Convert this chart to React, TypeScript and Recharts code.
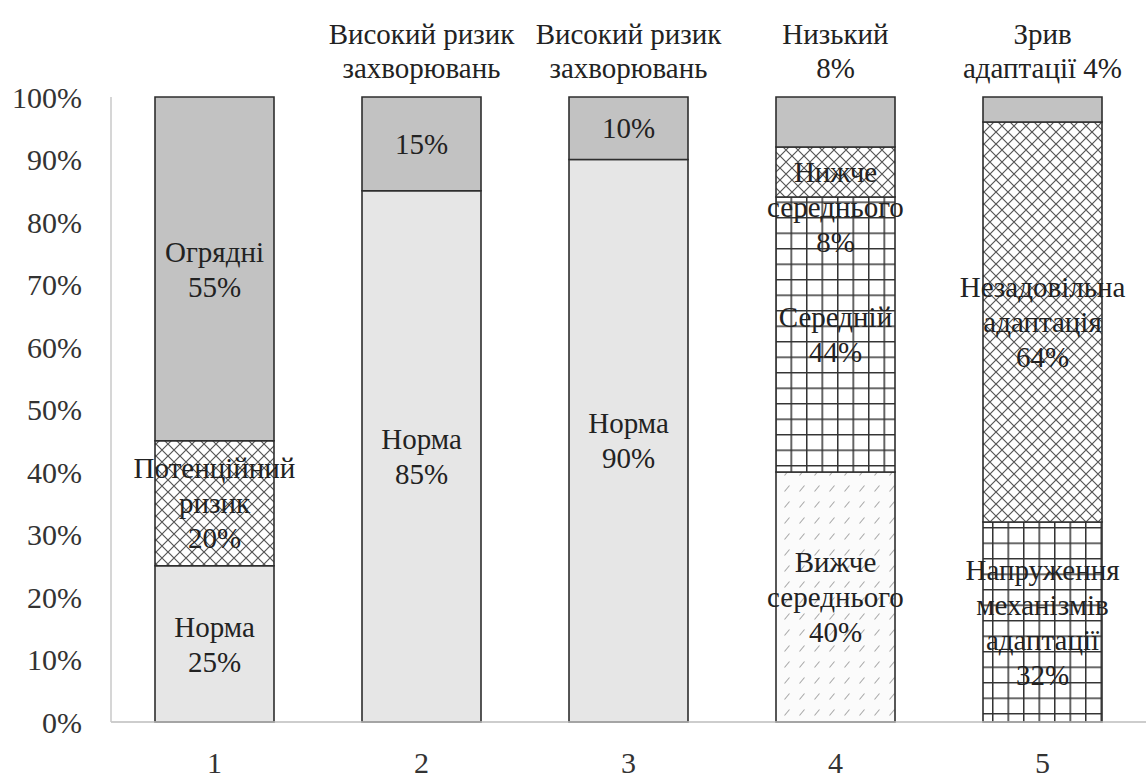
import React from 'react';
import { BarChart, Bar, XAxis, YAxis, LabelList } from 'recharts';

const categories = ['1', '2', '3', '4', '5'];
const lightValues = [25, 85, 90, 0, 0];
const dashedValues = [0, 0, 0, 40, 0];
const gridValues = [0, 0, 0, 44, 32];
const crossValues = [20, 0, 0, 8, 64];
const grayValues = [55, 15, 10, 8, 4];

const lightLabels = [['Норма', '25%'], ['Норма', '85%'], ['Норма', '90%'], [], []];
const dashedLabels = [[], [], [], ['Вижче', 'середнього', '40%'], []];
const gridLabels = [[], [], [], ['Середній', '44%'], ['Напруження', 'механізмів', 'адаптації', '32%']];
const crossLabels = [['Потенційний', 'ризик', '20%'], [], [], ['Нижче', 'середнього', '8%'], ['Незадовільна', 'адаптація', '64%']];
const grayLabels = [['Огрядні', '55%'], ['15%'], ['10%'], [], []];
const topLabels = [[], ['Високий ризик', 'захворювань'], ['Високий ризик', 'захворювань'], ['Низький', '8%'], ['Зрив', 'адаптації 4%']];

const yTicks = [0, 10, 20, 30, 40, 50, 60, 70, 80, 90, 100];

const data = categories.map((c, i) => ({
  name: c,
  light: lightValues[i],
  dashed: dashedValues[i],
  grid: gridValues[i],
  cross: crossValues[i],
  gray: grayValues[i],
}));

const FONT = 'Liberation Serif';
const FS = 29;
const LINE = 35;
const TEXT_COLOR = '#222';
const PLOT_LEFT = 111;
const CHART_W = 1146;
const BAND = (CHART_W - PLOT_LEFT) / categories.length;

const getBox = (props: any) => {
  const vb = props.viewBox && props.viewBox.width !== undefined ? props.viewBox : props;
  const x = Number(vb.x);
  const y = Number(vb.y);
  const width = Number(vb.width);
  const height = Number(vb.height);
  const index = Math.floor((x + width / 2 - PLOT_LEFT) / BAND);
  return { x, y, width, height, index };
};

const makeSegmentLabel = (labels: string[][]) => (props: any) => {
  const { x, y, width, height, index } = getBox(props);
  const lines = labels[index];
  if (!lines || lines.length === 0 || !height) return null;
  const cx = x + width / 2;
  const block = (lines.length - 1) * LINE;
  let firstCenter = y + height / 2 - block / 2;
  if (block + LINE > height) firstCenter = y + height / 2;
  return (
    <g>
      {lines.map((t, k) => (
        <text
          key={k}
          x={cx}
          y={firstCenter + k * LINE + FS * 0.35}
          textAnchor="middle"
          fontFamily={FONT}
          fontSize={FS}
          fill={TEXT_COLOR}
        >
          {t}
        </text>
      ))}
    </g>
  );
};

const topLabel = (props: any) => {
  const { x, y, width, index } = getBox(props);
  const lines = topLabels[index];
  if (!lines || lines.length === 0) return null;
  const cx = x + width / 2;
  const lastBase = y - 19;
  return (
    <g>
      {lines.map((t, k) => (
        <text
          key={k}
          x={cx}
          y={lastBase - (lines.length - 1 - k) * 34}
          textAnchor="middle"
          fontFamily={FONT}
          fontSize={FS}
          fill={TEXT_COLOR}
        >
          {t}
        </text>
      ))}
    </g>
  );
};

const STROKE = '#2e2e2e';

export default function App() {
  return (
    <div style={{ position: 'absolute', left: 0, top: 0, width: 1146, height: 778, overflow: 'hidden', background: '#fff' }}>
      <BarChart
        width={CHART_W}
        height={778}
        data={data}
        margin={{ top: 97, right: 0, bottom: 0, left: 0 }}
        barSize={119}
      >
        <defs>
          <pattern id="crossPat" patternUnits="userSpaceOnUse" width={12} height={12}>
            <rect width={12} height={12} fill="#ffffff" />
            <path d="M0,0 L12,12 M12,0 L0,12" stroke="#555" strokeWidth={1.2} />
          </pattern>
          <pattern id="gridPat" patternUnits="userSpaceOnUse" width={15.5} height={15.5}>
            <rect width={15.5} height={15.5} fill="#ffffff" />
            <path d="M0.75,0 L0.75,15.5 M0,0.75 L15.5,0.75" stroke="#333" strokeWidth={1.5} />
          </pattern>
          <pattern id="dashPat" patternUnits="userSpaceOnUse" width={15} height={16}>
            <rect width={15} height={16} fill="#fbfbfb" />
            <path d="M4.5,11.5 L9.5,5.5" stroke="#a8a8a8" strokeWidth={1.1} />
          </pattern>
        </defs>
        <XAxis
          dataKey="name"
          height={56}
          axisLine={{ stroke: '#bdbdbd', strokeWidth: 1.5 }}
          tickLine={false}
          tickSize={0}
          tickMargin={30}
          tick={{ fontFamily: FONT, fontSize: 30, fill: '#333' }}
        />
        <YAxis
          width={PLOT_LEFT}
          domain={[0, 100]}
          ticks={yTicks}
          interval={0}
          tickFormatter={(v: number) => `${v}%`}
          axisLine={{ stroke: '#c8c8c8', strokeWidth: 1.5 }}
          tickLine={false}
          tickSize={0}
          tickMargin={29}
          tick={{ fontFamily: FONT, fontSize: 30, fill: '#333' }}
        />
        <Bar dataKey="light" stackId="a" fill="#e6e6e6" stroke={STROKE} strokeWidth={1.6} isAnimationActive={false}>
          <LabelList dataKey="light" content={makeSegmentLabel(lightLabels)} />
        </Bar>
        <Bar dataKey="dashed" stackId="a" fill="url(#dashPat)" stroke={STROKE} strokeWidth={1.6} isAnimationActive={false}>
          <LabelList dataKey="dashed" content={makeSegmentLabel(dashedLabels)} />
        </Bar>
        <Bar dataKey="grid" stackId="a" fill="url(#gridPat)" stroke={STROKE} strokeWidth={1.6} isAnimationActive={false}>
          <LabelList dataKey="grid" content={makeSegmentLabel(gridLabels)} />
        </Bar>
        <Bar dataKey="cross" stackId="a" fill="url(#crossPat)" stroke={STROKE} strokeWidth={1.6} isAnimationActive={false}>
          <LabelList dataKey="cross" content={makeSegmentLabel(crossLabels)} />
        </Bar>
        <Bar dataKey="gray" stackId="a" fill="#c2c2c2" stroke={STROKE} strokeWidth={1.6} isAnimationActive={false}>
          <LabelList dataKey="gray" content={makeSegmentLabel(grayLabels)} />
          <LabelList dataKey="gray" content={topLabel} />
        </Bar>
      </BarChart>
    </div>
  );
}
